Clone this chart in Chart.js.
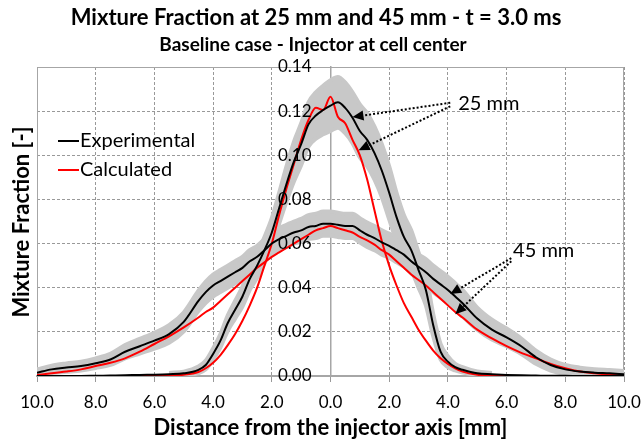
<!DOCTYPE html>
<html>
<head>
<meta charset="utf-8">
<script src="https://cdn.jsdelivr.net/npm/chart.js@4.4.1/dist/chart.umd.min.js"></script>
<style>
  html, body { margin: 0; padding: 0; background: #fff; }
</style>
</head>
<body>
<canvas id="mixChart" width="641" height="443"></canvas>
<script>
// radial positions [mm] (finer near the axis)
const xs = [-10, -9.5, -9, -8.5, -8, -7.5, -7, -6.5, -6, -5.5, -5,
  -4.5, -4.25, -4, -3.75, -3.5, -3.25, -3, -2.75, -2.5, -2.25, -2, -1.75, -1.5, -1.25, -1, -0.75, -0.5, -0.25,
  0, 0.25, 0.5, 0.75, 1, 1.25, 1.5, 1.75, 2, 2.25, 2.5, 2.75, 3, 3.25, 3.5, 3.75, 4, 4.25, 4.5,
  5, 5.5, 6, 6.5, 7, 7.5, 8, 8.5, 9, 9.5, 10];

// 25 mm
const exp25 = [0, 0, 0, 0, 0.0001, 0.0002, 0.0003, 0.0005, 0.0006, 0.0008, 0.0012,
  0.0028, 0.005, 0.010, 0.016, 0.024, 0.030, 0.036, 0.044, 0.050, 0.057, 0.065, 0.076, 0.087, 0.097, 0.105, 0.114, 0.118, 0.1205,
  0.1225, 0.124, 0.1215, 0.117, 0.111, 0.107, 0.101, 0.093, 0.083, 0.072, 0.063, 0.057, 0.048, 0.039, 0.023, 0.011, 0.0065, 0.004, 0.0028,
  0.0012, 0.0008, 0.0005, 0.0003, 0.0002, 0.0001, 0.0001, 0, 0, 0, 0];
const calc25 = [0, 0, 0, 0, 0, 0, 0, 0, 0.0001, 0.0003, 0.0006,
  0.0018, 0.0035, 0.006, 0.0095, 0.014, 0.019, 0.025, 0.032, 0.040, 0.050, 0.060, 0.073, 0.085, 0.096, 0.107, 0.116, 0.1215, 0.1205,
  0.1265, 0.1175, 0.1145, 0.107, 0.100, 0.089, 0.075, 0.061, 0.050, 0.041, 0.033, 0.027, 0.021, 0.016, 0.0115, 0.008, 0.0055, 0.0035, 0.002,
  0.0006, 0.0002, 0, 0, 0, 0, 0, 0, 0, 0, 0];
const unc25 = [null, null, null, null, null, null, null, null, null, 0.0006, 0.0008,
  0.0015, 0.002, 0.0025, 0.003, 0.0035, 0.004, 0.0045, 0.005, 0.0055, 0.006, 0.0065, 0.007, 0.008, 0.009, 0.0095, 0.010, 0.0105, 0.011,
  0.0115, 0.0115, 0.0115, 0.0115, 0.012, 0.012, 0.012, 0.012, 0.012, 0.011, 0.010, 0.009, 0.008, 0.007, 0.005, 0.0035, 0.0025, 0.0015, 0.0012,
  0.0008, 0.0006, null, null, null, null, null, null, null, null, null];

// 45 mm
const exp45 = [0.0015, 0.003, 0.0038, 0.0045, 0.0058, 0.0075, 0.011, 0.0135, 0.016, 0.019, 0.0245,
  0.034, 0.038, 0.041, 0.043, 0.045, 0.047, 0.049, 0.052, 0.054, 0.057, 0.060, 0.062, 0.0635, 0.065, 0.066, 0.0675, 0.068, 0.069,
  0.069, 0.0685, 0.068, 0.068, 0.066, 0.064, 0.0625, 0.0605, 0.059, 0.057, 0.055, 0.052, 0.0495, 0.047, 0.044, 0.0415, 0.039, 0.036, 0.033,
  0.026, 0.021, 0.0175, 0.0135, 0.0085, 0.005, 0.003, 0.002, 0.0015, 0.0012, 0.0008];
const calc45 = [0.0005, 0.0012, 0.002, 0.003, 0.0045, 0.006, 0.008, 0.011, 0.0145, 0.018, 0.022,
  0.0265, 0.029, 0.031, 0.034, 0.037, 0.040, 0.043, 0.046, 0.049, 0.0515, 0.054, 0.056, 0.058, 0.060, 0.062, 0.064, 0.066, 0.067,
  0.068, 0.067, 0.066, 0.065, 0.063, 0.0615, 0.0595, 0.057, 0.055, 0.052, 0.049, 0.046, 0.0435, 0.041, 0.038, 0.035, 0.032, 0.029, 0.0265,
  0.021, 0.017, 0.0135, 0.0105, 0.008, 0.0055, 0.0035, 0.002, 0.0012, 0.0006, 0.0002];
const unc45 = [0.0015, 0.0017, 0.0019, 0.002, 0.0022, 0.0025, 0.003, 0.0033, 0.0036, 0.004, 0.0043,
  0.0046, 0.0048, 0.005, 0.005, 0.005, 0.005, 0.005, 0.005, 0.005, 0.005, 0.005, 0.005, 0.005, 0.005, 0.0052, 0.0054, 0.0055, 0.0055,
  0.0055, 0.0055, 0.0055, 0.0055, 0.0055, 0.0055, 0.0055, 0.0055, 0.0055, 0.0055, 0.0055, 0.0055, 0.0055, 0.006, 0.006, 0.006, 0.006, 0.006, 0.006,
  0.005, 0.0045, 0.004, 0.0035, 0.003, 0.0025, 0.002, 0.0018, 0.0016, 0.0015, 0.0015];

// annotation anchors in data units [mm, -]
const notes = [
  { text: '25 mm', at: [4.35, 0.1236], from: [[4.08, 0.1238], [4.08, 0.1222]], to: [[0.75, 0.1173], [0.96, 0.1023]] },
  { text: '45 mm', at: [6.22, 0.0568], from: [[6.16, 0.0534], [6.16, 0.0520]], to: [[4.08, 0.0371], [4.25, 0.0280]] }
];

const GRAY = '#c8c8c8';
const RED = '#ff0000';

const line = vals => xs.map((x, i) => ({ x, y: vals[i] }));
const band = (vals, unc, s) => xs.map((x, i) => ({ x, y: unc[i] == null ? null : vals[i] + s * unc[i] }));

function arrow(ctx, x1, y1, x2, y2) {
  const a = Math.atan2(y2 - y1, x2 - x1);
  const hl = 11, hw = 5;
  ctx.setLineDash([2, 2]);
  ctx.beginPath();
  ctx.moveTo(x1, y1);
  ctx.lineTo(x2 - hl * Math.cos(a), y2 - hl * Math.sin(a));
  ctx.stroke();
  ctx.setLineDash([]);
  ctx.beginPath();
  ctx.moveTo(x2, y2);
  ctx.lineTo(x2 - hl * Math.cos(a) + hw * Math.sin(a), y2 - hl * Math.sin(a) - hw * Math.cos(a));
  ctx.lineTo(x2 - hl * Math.cos(a) - hw * Math.sin(a), y2 - hl * Math.sin(a) + hw * Math.cos(a));
  ctx.closePath();
  ctx.fill();
}

const extras = {
  id: 'extras',
  beforeDatasetsDraw(chart) {
    const { ctx, chartArea: a, scales: { x } } = chart;
    ctx.save();
    ctx.strokeStyle = '#a6a6a6';
    ctx.lineWidth = 1;
    ctx.beginPath();
    ctx.moveTo(a.left + 0.5, a.bottom);
    ctx.lineTo(a.left + 0.5, a.top + 0.5);
    ctx.lineTo(a.right - 0.5, a.top + 0.5);
    ctx.lineTo(a.right - 0.5, a.bottom);
    ctx.stroke();
    // x tick labels (drawn here so they do not squeeze the plot area)
    ctx.fillStyle = '#000';
    ctx.font = '17px Lato';
    ctx.textAlign = 'center';
    ctx.textBaseline = 'middle';
    x.ticks.forEach(t => ctx.fillText(Math.abs(t.value).toFixed(1), x.getPixelForValue(t.value), a.bottom + 27));
    ctx.restore();
  },
  afterDatasetsDraw(chart) {
    // y tick labels sit on top of the bands, as in the original
    const { ctx, scales: { x, y } } = chart;
    ctx.save();
    ctx.fillStyle = '#000';
    ctx.font = '17px Lato';
    ctx.textAlign = 'right';
    ctx.textBaseline = 'middle';
    const right = x.getPixelForValue(0) - 19;
    y.ticks.forEach(t => ctx.fillText(t.value.toFixed(2), right, y.getPixelForValue(t.value)));
    ctx.restore();
  },
  afterDraw(chart) {
    const { ctx, chartArea: area, scales: { x, y } } = chart;
    ctx.save();
    ctx.fillStyle = '#000';
    ctx.textAlign = 'center';
    ctx.textBaseline = 'middle';
    // titles
    ctx.font = 'bold 22px Lato';
    ctx.fillText('Mixture Fraction at 25 mm and 45 mm - t = 3.0 ms', 316, 18);
    ctx.font = 'bold 19px Lato';
    ctx.fillText('Baseline case - Injector at cell center', 313, 45);
    // x axis title
    ctx.font = 'bold 22px Lato';
    ctx.fillText('Distance from the injector axis [mm]', (area.left + area.right) / 2, 428);
    // y axis title
    ctx.translate(22, 222);
    ctx.rotate(-Math.PI / 2);
    ctx.fillText('Mixture Fraction [-]', 0, 0);
    ctx.restore();

    // legend
    ctx.save();
    ctx.font = '20px Lato';
    ctx.textBaseline = 'middle';
    ctx.lineWidth = 2;
    [['Experimental', '#000', 141], ['Calculated', RED, 170]].forEach(([t, c, yy]) => {
      ctx.strokeStyle = c;
      ctx.beginPath();
      ctx.moveTo(58, yy);
      ctx.lineTo(79, yy);
      ctx.stroke();
      ctx.fillStyle = '#000';
      ctx.fillText(t, 80, yy);
    });

    // annotations
    ctx.strokeStyle = '#000';
    ctx.fillStyle = '#000';
    ctx.lineWidth = 2;
    notes.forEach(n => {
      n.to.forEach((p, i) => {
        const f = n.from[i];
        arrow(ctx, x.getPixelForValue(f[0]), y.getPixelForValue(f[1]),
          x.getPixelForValue(p[0]), y.getPixelForValue(p[1]));
      });
      ctx.textAlign = 'left';
      ctx.fillText(n.text, x.getPixelForValue(n.at[0]), y.getPixelForValue(n.at[1]));
    });
    ctx.restore();
  }
};

Chart.defaults.font.family = 'Lato';
Chart.defaults.color = '#000';

const bandStyle = { borderColor: GRAY, backgroundColor: GRAY, borderWidth: 4, order: 10 };

new Chart(document.getElementById('mixChart'), {
  type: 'line',
  data: {
    datasets: [
      { label: '25 lo', data: band(exp25, unc25, -1), fill: false, ...bandStyle },
      { label: '25 hi', data: band(exp25, unc25, 1), fill: '-1', ...bandStyle },
      { label: '45 lo', data: band(exp45, unc45, -1), fill: false, ...bandStyle },
      { label: '45 hi', data: band(exp45, unc45, 1), fill: '-1', ...bandStyle },
      { label: 'Calculated 45', data: line(calc45), borderColor: RED, borderWidth: 2, order: 4 },
      { label: 'Calculated 25', data: line(calc25), borderColor: RED, borderWidth: 2, order: 3 },
      { label: 'Experimental 45', data: line(exp45), borderColor: '#000', borderWidth: 2, order: 2 },
      { label: 'Experimental 25', data: line(exp25), borderColor: '#000', borderWidth: 2, order: 1 }
    ]
  },
  options: {
    responsive: false,
    animation: false,
    events: [],
    elements: {
      point: { radius: 0 },
      line: { cubicInterpolationMode: 'monotone', fill: false }
    },
    layout: { padding: { left: 37, right: 17, top: 67, bottom: 61 } },
    plugins: {
      legend: { display: false },
      tooltip: { enabled: false },
      title: { display: false },
      subtitle: { display: false }
    },
    scales: {
      x: {
        type: 'linear',
        min: -10,
        max: 10,
        ticks: { stepSize: 2, display: false },
        grid: { color: '#999', tickColor: '#999', tickLength: 6, lineWidth: 1 },
        border: { color: '#a6a6a6', width: 2, dash: [3, 2] }
      },
      y: {
        type: 'linear',
        min: 0,
        max: 0.14,
        position: { x: 0 },
        ticks: { stepSize: 0.02, display: false },
        grid: { color: '#999', drawTicks: false, lineWidth: 1 },
        border: { color: '#a6a6a6', width: 1.5, dash: [3, 2] }
      }
    }
  },
  plugins: [extras]
});
</script>
</body>
</html>
